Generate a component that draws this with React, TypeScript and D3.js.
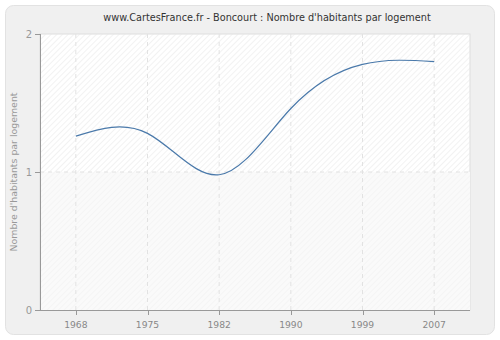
import React from "react";
import * as d3 from "d3";

const years = ["1968", "1975", "1982", "1990", "1999", "2007"];
const values = [1.26, 1.28, 0.98, 1.46, 1.78, 1.80];
const yTicks = [0, 1, 2];

export default function App() {
  const W = 500, H = 340;
  const left = 40, right = 470, top = 34, bottom = 310;
  const x = d3.scalePoint<string>().domain(years).range([left, right]).padding(0.5);
  const y = d3.scaleLinear().domain([0, 2]).range([bottom, top]);
  const line = d3.line<number>()
    .x((_, i) => x(years[i]) as number)
    .y((d) => y(d))
    .curve(d3.curveNatural);
  const font = "DejaVu Sans, Verdana, sans-serif";
  return (
    <svg width={W} height={H} style={{ position: "absolute", left: 0, top: 0 }} fontFamily={font}>
      <defs>
        <pattern id="hatch" width="4" height="4" patternUnits="userSpaceOnUse" patternTransform="rotate(45)">
          <line x1="0" y1="0" x2="0" y2="4" stroke="#e6e6e6" strokeWidth="1" />
        </pattern>
        <pattern id="hatch2" width="4" height="4" patternUnits="userSpaceOnUse" patternTransform="rotate(45)">
          <line x1="0" y1="0" x2="0" y2="4" stroke="#f0f0f0" strokeWidth="1" />
        </pattern>
      </defs>
      <rect x={0} y={0} width={W} height={H} fill="#ffffff" />
      <rect x={5.5} y={5.5} width={489} height={329} rx={8} fill="#f0f0f0" stroke="#e2e2e2" />
      <rect x={left} y={top} width={right - left} height={bottom - top} fill="#ffffff" stroke="#dddddd" />
      <rect x={left} y={top} width={right - left} height={y(1) - top} fill="url(#hatch)" />
      <rect x={left} y={y(1)} width={right - left} height={bottom - y(1)} fill="#fafafa" />
      <rect x={left} y={y(1)} width={right - left} height={bottom - y(1)} fill="url(#hatch2)" />
      {years.map((yr) => (
        <line key={"g" + yr} x1={x(yr)} x2={x(yr)} y1={top} y2={bottom} stroke="#e2e2e2" strokeDasharray="4,4" />
      ))}
      {yTicks.filter((t) => t > 0 && t < 2).map((t) => (
        <line key={"gy" + t} x1={left} x2={right} y1={y(t)} y2={y(t)} stroke="#e2e2e2" strokeDasharray="4,4" />
      ))}
      <path d={line(values) || ""} fill="none" stroke="#4a79aa" strokeWidth={1.2} />
      <line x1={left + 0.5} x2={left + 0.5} y1={top} y2={bottom} stroke="#999" />
      <line x1={left - 5} x2={right} y1={bottom + 0.5} y2={bottom + 0.5} stroke="#999" />
      {yTicks.map((t) => (
        <g key={"yt" + t}>
          <line x1={left - 5} x2={left} y1={Math.round(y(t)) + 0.5} y2={Math.round(y(t)) + 0.5} stroke="#999" />
          <text x={left - 8} y={y(t) + 4} textAnchor="end" fontSize={10} fill="#999">{t}</text>
        </g>
      ))}
      {years.map((yr) => (
        <g key={"xt" + yr}>
          <line x1={Math.round(x(yr) as number) + 0.5} x2={Math.round(x(yr) as number) + 0.5} y1={bottom} y2={bottom + 5} stroke="#999" />
          <text x={x(yr)} y={bottom + 18} textAnchor="middle" fontSize={9.2} fill="#888">{yr}</text>
        </g>
      ))}
      <text x={14} y={(top + bottom) / 2} transform={`rotate(-90, 14, ${(top + bottom) / 2})`} textAnchor="middle" dominantBaseline="middle" fontSize={9.4} fill="#999">Nombre d'habitants par logement</text>
      <text x={267} y={21} textAnchor="middle" fontSize={9.7} fill="#333">www.CartesFrance.fr - Boncourt : Nombre d'habitants par logement</text>
    </svg>
  );
}
